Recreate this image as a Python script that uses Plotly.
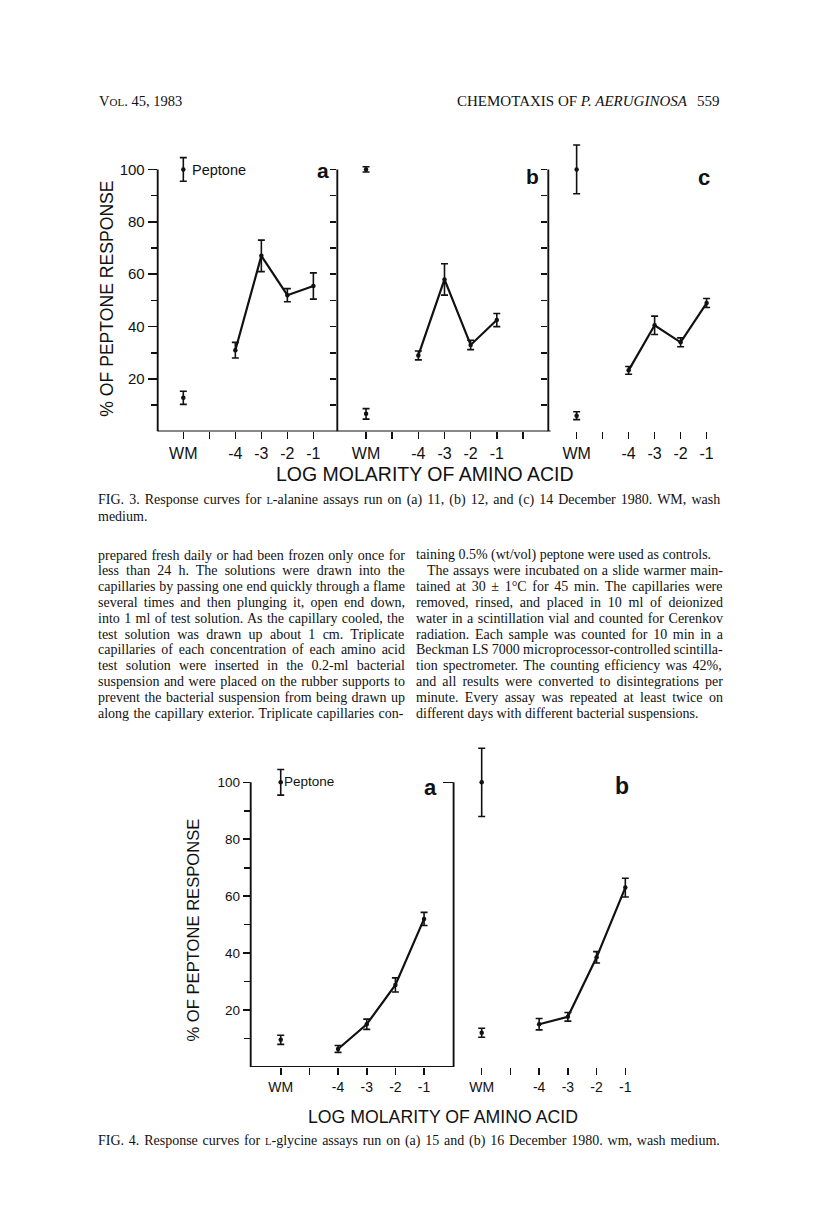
import plotly.graph_objects as go

W, H = 816, 1207

# ---------------- data ----------------
slots = ["WM", " ", "-4", "-3", "-2", "-1"]          # x-axis slots (blank slot between WM and -4)
slots_wide = slots + ["  "]                          # panel 3b has one more blank slot
conc = ["-4", "-3", "-2", "-1"]                      # log molarity of amino acid
y_major = [20, 40, 60, 80, 100]
y_minor = [10, 30, 50, 70, 90]
y_all = [10, 20, 30, 40, 50, 60, 70, 80, 90, 100]

# Fig. 3 (L-alanine)
f3a_resp = [31.0, 67.0, 52.0, 55.5]
f3a_err = [3.0, 6.0, 2.5, 5.0]
f3a_wm, f3a_wm_err = [12.8], [2.5]
f3a_pep, f3a_pep_err = [100.0], [4.5]

f3b_resp = [29.0, 58.0, 33.0, 42.5]
f3b_err = [1.7, 6.0, 1.8, 2.5]
f3b_wm, f3b_wm_err = [6.7], [2.0]
f3b_pep, f3b_pep_err = [100.0], [1.0]

f3c_resp = [23.3, 40.5, 34.0, 49.0]
f3c_err = [1.5, 3.5, 1.7, 1.7]
f3c_wm, f3c_wm_err = [6.0], [1.5]
f3c_pep, f3c_pep_err = [100.0], [9.3]

# Fig. 4 (L-glycine)
f4a_resp = [6.3, 15.0, 28.8, 52.0]
f4a_err = [1.2, 1.8, 2.5, 2.3]
f4a_wm, f4a_wm_err = [9.5], [1.6]
f4a_pep, f4a_pep_err = [100.0], [4.5]

f4b_resp = [15.0, 17.6, 38.5, 63.0]
f4b_err = [2.0, 1.5, 2.0, 3.3]
f4b_wm, f4b_wm_err = [12.0], [1.6]
f4b_pep, f4b_pep_err = [100.0], [12.0]

# ---------------- text ----------------
header_left = "V<span style='font-size:11px'>OL</span>. 45, 1983"
header_mid = "CHEMOTAXIS OF <i>P. AERUGINOSA</i>"
header_page = "559"

cap3_line1 = "FIG. 3. Response curves for <span style='font-size:10.5px'>L</span>-alanine assays run on (a) 11, (b) 12, and (c) 14 December 1980. WM, wash"
cap3_line1_plain = "FIG. 3. Response curves for L-alanine assays run on (a) 11, (b) 12, and (c) 14 December 1980. WM, wash"
cap3_line2 = "medium."
cap4 = "FIG. 4. Response curves for <span style='font-size:10.5px'>L</span>-glycine assays run on (a) 15 and (b) 16 December 1980. wm, wash medium."
cap4_plain = "FIG. 4. Response curves for L-glycine assays run on (a) 15 and (b) 16 December 1980. wm, wash medium."

left_col = [
    "prepared fresh daily or had been frozen only once for",
    "less than 24 h. The solutions were drawn into the",
    "capillaries by passing one end quickly through a flame",
    "several times and then plunging it, open end down,",
    "into 1 ml of test solution. As the capillary cooled, the",
    "test solution was drawn up about 1 cm. Triplicate",
    "capillaries of each concentration of each amino acid",
    "test solution were inserted in the 0.2-ml bacterial",
    "suspension and were placed on the rubber supports to",
    "prevent the bacterial suspension from being drawn up",
    "along the capillary exterior. Triplicate capillaries con-",
]
right_col = [
    "taining 0.5% (wt/vol) peptone were used as controls.",
    "The assays were incubated on a slide warmer main-",
    "tained at 30 ± 1°C for 45 min. The capillaries were",
    "removed, rinsed, and placed in 10 ml of deionized",
    "water in a scintillation vial and counted for Cerenkov",
    "radiation. Each sample was counted for 10 min in a",
    "Beckman LS 7000 microprocessor-controlled scintilla-",
    "tion spectrometer. The counting efficiency was 42%,",
    "and all results were converted to disintegrations per",
    "minute. Every assay was repeated at least twice on",
    "different days with different bacterial suspensions.",
]

# ---------------- helpers ----------------
def px(x):
    return x / W

def py(y):
    return 1 - y / H

TIMES = {' ': 250, 'a': 444, 'b': 500, 'c': 444, 'd': 500, 'e': 444, 'f': 333, 'g': 500, 'h': 500,
         'i': 278, 'j': 278, 'k': 500, 'l': 278, 'm': 778, 'n': 500, 'o': 500, 'p': 500, 'q': 500,
         'r': 333, 's': 389, 't': 278, 'u': 500, 'v': 500, 'w': 722, 'x': 500, 'y': 500, 'z': 444,
         'A': 722, 'B': 667, 'C': 667, 'D': 722, 'E': 611, 'F': 556, 'G': 722, 'H': 722, 'I': 333,
         'J': 389, 'K': 722, 'L': 611, 'M': 889, 'N': 722, 'O': 722, 'P': 556, 'Q': 722, 'R': 667,
         'S': 556, 'T': 611, 'U': 722, 'V': 722, 'W': 944, 'X': 722, 'Y': 722, 'Z': 611,
         '.': 250, ',': 250, '-': 333, '(': 333, ')': 333, '%': 833, '/': 278, ':': 278,
         '°': 400, '±': 564, ';': 278}
for d in "0123456789":
    TIMES[d] = 500

def tw(s, size):
    return sum(TIMES.get(c, 500) for c in s) / 1000.0 * size

def justify(markup, plain, size, target):
    n = plain.count(" ")
    ws = (target - tw(plain, size)) / max(n, 1)
    return "<span style='word-spacing:%.2fpx'>%s</span>" % (ws, markup)

BODY = 14
SANS = "Liberation Sans, Arial, sans-serif"
SERIF = "Liberation Serif, Times New Roman, serif"
BLACK = "#111111"

fig = go.Figure()

def add_panel(xa, ya, resp, err, wm, wm_err, pep, pep_err):
    common = dict(xaxis=xa, yaxis=ya, showlegend=False, cliponaxis=False, hoverinfo="skip")
    fig.add_trace(go.Scatter(x=conc, y=resp, mode="lines+markers",
                             line=dict(color=BLACK, width=2.2),
                             marker=dict(color=BLACK, size=4.5),
                             error_y=dict(type="data", array=err, color=BLACK, thickness=1.6, width=3.5),
                             **common))
    fig.add_trace(go.Scatter(x=["WM"], y=wm, mode="markers",
                             marker=dict(color=BLACK, size=4.5),
                             error_y=dict(type="data", array=wm_err, color=BLACK, thickness=1.6, width=3.5),
                             **common))
    fig.add_trace(go.Scatter(x=["WM"], y=pep, mode="markers",
                             marker=dict(color=BLACK, size=4.5),
                             error_y=dict(type="data", array=pep_err, color=BLACK, thickness=1.6, width=3.5),
                             **common))

add_panel("x", "y", f3a_resp, f3a_err, f3a_wm, f3a_wm_err, f3a_pep, f3a_pep_err)
add_panel("x2", "y2", f3b_resp, f3b_err, f3b_wm, f3b_wm_err, f3b_pep, f3b_pep_err)
add_panel("x3", "y3", f3c_resp, f3c_err, f3c_wm, f3c_wm_err, f3c_pep, f3c_pep_err)
add_panel("x4", "y4", f4a_resp, f4a_err, f4a_wm, f4a_wm_err, f4a_pep, f4a_pep_err)
add_panel("x5", "y5", f4b_resp, f4b_err, f4b_wm, f4b_wm_err, f4b_pep, f4b_pep_err)

def xaxis(dom, rng, anchor, cats, size):
    return dict(domain=[px(dom[0]), px(dom[1])], range=rng, anchor=anchor, type="category",
                categoryorder="array", categoryarray=cats,
                showline=False, showgrid=False, zeroline=False,
                ticks="outside", ticklen=7, tickwidth=1.6, tickcolor=BLACK,
                ticklabelstandoff=0,
                tickfont=dict(family=SANS, size=size, color=BLACK), fixedrange=True)

def yaxis(dom, anchor, vals, labels, size, ticklen, minor=None):
    d = dict(domain=[py(dom[0]), py(dom[1])], range=[0, 116], anchor=anchor,
             showline=False, showgrid=False, zeroline=False,
             tickmode="array", tickvals=vals, ticks="outside", ticklen=ticklen,
             tickwidth=1.6, tickcolor=BLACK, fixedrange=True)
    if labels is None:
        d["showticklabels"] = False
    else:
        d["ticktext"] = labels
        d["tickfont"] = dict(family=SANS, size=size, color=BLACK)
    if minor is not None:
        d["minor"] = dict(tickmode="array", tickvals=minor, ticks="outside", ticklen=6,
                          tickwidth=1.6, tickcolor=BLACK)
    return d

# Fig. 3 geometry (pixels): y=0 at 431.4, y=116 at 127.5
F3Y = (431.4, 127.5)
F4Y = (1066.9, 736.8)

layout = dict(
    width=W, height=H, margin=dict(l=0, r=0, t=0, b=0), autosize=False,
    paper_bgcolor="white", plot_bgcolor="rgba(0,0,0,0)",
    font=dict(family=SERIF, size=BODY, color=BLACK),
    xaxis=xaxis((157.7, 337.3), [-0.985, 5.92], "y", slots, 16),
    xaxis2=xaxis((337.3, 548.3), [-1.10, 6.97], "y2", slots_wide, 16),
    xaxis3=xaxis((548.3, 730.0), [-1.09, 5.90], "y3", slots, 16),
    xaxis4=xaxis((250.7, 453.6), [-1.047, 6.03], "y4", slots, 14),
    xaxis5=xaxis((453.6, 700.0), [-0.978, 7.6], "y5", slots, 14),
    yaxis=yaxis(F3Y, "x", y_major, [str(v) for v in y_major], 15, 9, y_minor),
    yaxis2=yaxis(F3Y, "x2", y_all, None, 15, 6),
    yaxis3=yaxis(F3Y, "x3", y_all, None, 15, 6),
    yaxis4=yaxis(F4Y, "x4", y_major, [str(v) for v in y_major], 13.5, 7, y_minor),
    yaxis5=yaxis(F4Y, "x5", [100], None, 13.5, 10),
)
fig.update_layout(**layout)

# axis frame lines
line_style = dict(color=BLACK, width=1.9)
shapes = []
for xr, yr in [("x", "y"), ("x2", "y2"), ("x3", "y3"), ("x4", "y4"), ("x5", "y5")]:
    shapes.append(dict(type="line", xref=xr + " domain", yref=yr, x0=0, x1=0, y0=0, y1=100, line=line_style))
for xr, yr in [("x", "y"), ("x2", "y2"), ("x4", "y4")]:
    shapes.append(dict(type="line", xref=xr + " domain", yref=yr, x0=0, x1=1, y0=0, y1=0, line=line_style))
shapes.append(dict(type="line", xref="x3", yref="y3", x0=-1.09, x1="-1", y0=0, y1=0, line=line_style))
shapes.append(dict(type="line", xref="x5", yref="y5", x0=-0.978, x1="-1", y0=0, y1=0, line=line_style))
fig.update_layout(shapes=shapes)

ann = []
def A(x, y, text, size, family=SANS, xanchor="center", yanchor="middle", angle=0):
    ann.append(dict(x=px(x), y=py(y), xref="paper", yref="paper", text=text, showarrow=False,
                    xanchor=xanchor, yanchor=yanchor, textangle=angle, align="left",
                    font=dict(family=family, size=size, color=BLACK)))

# header
A(97, 101, header_left, 14.5, SERIF, xanchor="left")
A(690, 101, header_mid, 15, SERIF, xanchor="right")
A(722, 101, header_page, 15, SERIF, xanchor="right")

# Fig. 3 labels
A(190, 170, "Peptone", 14.5, SANS, xanchor="left")
A(323, 170, "<b>a</b>", 21)
A(532.5, 176, "<b>b</b>", 21)
A(704, 178, "<b>c</b>", 22)
A(106.7, 299, "% OF PEPTONE RESPONSE", 17.6, angle=-90)
A(425, 474, "LOG MOLARITY OF AMINO ACID", 19.5)

# Fig. 3 caption
A(96, 500, justify(cap3_line1, cap3_line1_plain, BODY, 625), BODY, SERIF, xanchor="left")
A(96, 516, cap3_line2, BODY, SERIF, xanchor="left")

# body text
y0, dy = 555, 15.8
for i, line in enumerate(left_col):
    A(96, y0 + i * dy, justify(line, line, BODY, 307), BODY, SERIF, xanchor="left")
for i, line in enumerate(right_col):
    if i == 0 or i == len(right_col) - 1:
        A(414, y0 + i * dy, line, BODY, SERIF, xanchor="left")
    elif i == 1:
        A(425, y0 + i * dy, justify(line, line, BODY, 296), BODY, SERIF, xanchor="left")
    else:
        A(414, y0 + i * dy, justify(line, line, BODY, 307), BODY, SERIF, xanchor="left")

# Fig. 4 labels
A(282.3, 781, "Peptone", 13.5, SANS, xanchor="left")
A(430.5, 787, "<b>a</b>", 22)
A(621.7, 786, "<b>b</b>", 23)
A(192.5, 930, "% OF PEPTONE RESPONSE", 16.6, angle=-90)
A(443.3, 1117, "LOG MOLARITY OF AMINO ACID", 17.7)

# Fig. 4 caption
A(96, 1141, justify(cap4, cap4_plain, BODY, 624), BODY, SERIF, xanchor="left")

fig.update_layout(annotations=ann)

fig.write_html("out.html", include_plotlyjs=True, config=dict(displayModeBar=False, staticPlot=True),
               post_script="document.body.style.margin='0';document.body.style.overflow='hidden';")
